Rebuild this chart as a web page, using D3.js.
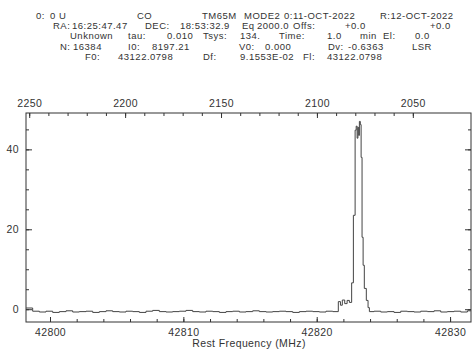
<!DOCTYPE html>
<html><head><meta charset="utf-8">
<script src="https://cdn.jsdelivr.net/npm/d3@7"></script>
<style>body{margin:0;background:#fff}svg{display:block}text{font-family:"Liberation Sans",Arial,sans-serif;fill:#333}</style>
</head><body><svg id="c" width="473" height="349"></svg>
<script>
// ---- data ----
const baseFreqA = [42798.2,42798.7,42799.2,42799.7,42800.2,42800.7,42801.2,42801.7,42802.2,42802.7,42803.2,42803.7,42804.2,42804.7,42805.2,42805.7,42806.2,42806.7,42807.2,42807.7,42808.2,42808.7,42809.2,42809.7,42810.2,42810.7,42811.2,42811.7,42812.2,42812.7,42813.2,42813.7,42814.2,42814.7,42815.2,42815.7,42816.2,42816.7,42817.2,42817.7,42818.2,42818.7,42819.2,42819.7,42820.2,42820.7,42821.2];
const baseTempA = [0.3,-0.5,-0.7,-0.5,-0.8,-0.6,-0.4,-0.7,-0.6,-0.5,-0.8,-0.6,-0.4,-0.6,-0.7,-0.5,-0.6,-0.8,-0.5,-0.3,-0.6,-0.7,-0.6,-0.5,-0.3,-0.6,-0.7,-0.5,-0.6,-0.8,-0.6,-0.5,-0.7,-0.6,-0.4,-0.6,-0.7,-0.6,-0.5,-0.6,-0.8,-0.6,-0.5,-0.6,-0.7,-0.5,-0.6];
const lineFreq = [42821.62,42821.78,42821.92,42822.10,42822.28,42822.45,42822.62,42822.75,42822.88,42822.96,42823.03,42823.09,42823.15,42823.20,42823.27,42823.33,42823.40,42823.48,42823.57,42823.72,42823.85,42823.95];
const lineTemp = [1.9,1.0,2.3,1.4,2.2,1.7,6.6,23.5,44.8,45.8,42.8,45.5,43.5,47.0,46.2,38.0,18.0,11.0,5.2,2.2,0.4,-0.6];
const baseFreqB = [42824.3,42824.8,42825.3,42825.8,42826.3,42826.8,42827.3,42827.8,42828.3,42828.8,42829.3,42829.8,42830.3,42830.8,42831.3,42831.57];
const baseTempB = [-0.5,-0.7,-0.6,-0.8,-0.5,-0.6,-0.7,-0.5,-0.6,-0.4,-0.7,-0.6,-0.5,-0.7,-0.4,-0.4];

const freqTicks = [42800,42810,42820,42830];
const freqMinor = d3.range(42800,42831.6,2);
const velTicks = [2250,2200,2150,2100,2050];
const velMinor = d3.range(2050,2251,10);
const tempTicks = [0,20,40];
const tempMinor = [0,5,10,15,20,25,30,35,40,45];

const header = [
 [36,15,"0:"],[50,15,"0 U"],[137,15,"CO"],[202,15,"TM65M"],[244,15,"MODE2"],[284,15,"0:11-OCT-2022"],[380,15,"R:12-OCT-2022"],
 [53,25,"RA:"],[72,25,"16:25:47.47"],[145,25,"DEC:"],[180,25,"18:53:32.9"],[242,25,"Eq"],[257,25,"2000.0"],[293,25,"Offs:"],[345,25,"+0.0"],[430,25,"+0.0"],
 [70,35,"Unknown"],[128,35,"tau:"],[167,35,"0.010"],[203,35,"Tsys:"],[240,35,"134."],[279,35,"Time:"],[327,35,"1.0"],[360,35,"min"],[383,35,"El:"],[415,35,"0.0"],
 [60,46,"N:"],[73,46,"16384"],[128,46,"I0:"],[152,46,"8197.21"],[239,46,"V0:"],[265,46,"0.000"],[328,46,"Dv:"],[348,46,"-0.6363"],[412,46,"LSR"],
 [85,56,"F0:"],[118,56,"43122.0798"],[203,56,"Df:"],[240,56,"9.1553E-02"],[303,56,"Fl:"],[327,56,"43122.0798"]
];

// ---- layout ----
const L=26,R=471,T=113,B=322;
const svg=d3.select("#c");
const x=d3.scaleLinear().domain([42798.2,42831.57]).range([L,R]);
const y=d3.scaleLinear().domain([-3.2,49.1]).range([B,T]);
const cLight=299792.458,f0=43122.0798;
const vel=f=>cLight*(f0-f)/f0;
const xv=d3.scaleLinear().domain([vel(42798.2),vel(42831.57)]).range([L,R]);

// header
svg.append("g").selectAll("text").data(header).join("text")
 .attr("x",d=>d[0]).attr("y",d=>d[1]+3.5).text(d=>d[2])
 .style("font-size","9.5px").style("letter-spacing","0.5px");

function style(g){g.select(".domain").remove();g.selectAll("line").attr("stroke","#333");g.selectAll("text").style("font-size","10.5px").style("letter-spacing","0.4px").attr("fill","#333");}

// axes
svg.append("g").attr("transform",`translate(0,${B})`).call(d3.axisBottom(x).tickValues(freqTicks).tickFormat(d3.format("d")).tickSize(-5).tickPadding(7)).call(style);
svg.append("g").attr("transform",`translate(0,${B})`).call(d3.axisBottom(x).tickValues(freqMinor).tickFormat("").tickSize(-3)).call(style);
svg.append("g").attr("transform",`translate(0,${T})`).call(d3.axisTop(xv).tickValues(velTicks).tickFormat(d3.format("d")).tickSize(-5).tickPadding(6)).call(style);
svg.append("g").attr("transform",`translate(0,${T})`).call(d3.axisTop(xv).tickValues(velMinor).tickFormat("").tickSize(-3)).call(style);
svg.append("g").attr("transform",`translate(${L},0)`).call(d3.axisLeft(y).tickValues(tempTicks).tickFormat(d3.format("d")).tickSize(-6).tickPadding(7)).call(style);
svg.append("g").attr("transform",`translate(${L},0)`).call(d3.axisLeft(y).tickValues(tempMinor).tickFormat("").tickSize(-3)).call(style);
svg.append("g").attr("transform",`translate(${R},0)`).call(d3.axisRight(y).tickValues(tempTicks).tickFormat("").tickSize(-6)).call(style);
svg.append("g").attr("transform",`translate(${R},0)`).call(d3.axisRight(y).tickValues(tempMinor).tickFormat("").tickSize(-3)).call(style);

svg.append("rect").attr("x",L).attr("y",T).attr("width",R-L).attr("height",B-T).attr("fill","none").attr("stroke","#333").attr("stroke-width",1);

// spectrum
const freqs=[...baseFreqA,...lineFreq,...baseFreqB];
const temps=[...baseTempA,...lineTemp,...baseTempB];
const pts=freqs.map((f,i)=>[f,temps[i]]);
svg.append("path").datum(pts).attr("fill","none").attr("stroke","#444").attr("stroke-width",1)
 .attr("d",d3.line().x(d=>x(d[0])).y(d=>y(d[1])).curve(d3.curveStepAfter));

svg.append("text").attr("x",249).attr("y",347).attr("text-anchor","middle").text("Rest Frequency (MHz)").style("font-size","10.5px").style("letter-spacing","0.4px");
</script></body></html>
